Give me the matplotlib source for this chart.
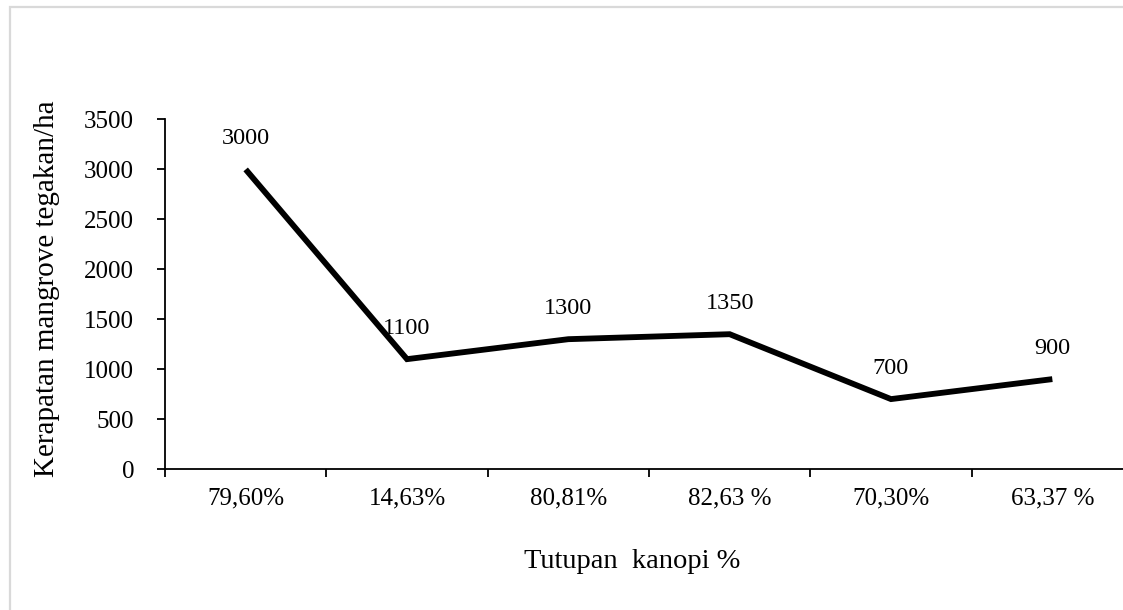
import matplotlib
matplotlib.use("Agg")
import matplotlib.pyplot as plt
from matplotlib.patches import Rectangle

categories = ["79,60%", "14,63%", "80,81%", "82,63 %", "70,30%", "63,37 %"]
values = [3000, 1100, 1300, 1350, 700, 900]
yticks = [0, 500, 1000, 1500, 2000, 2500, 3000, 3500]

plt.rcParams['font.family'] = ['Liberation Serif', 'DejaVu Serif']
FS = 18

fig = plt.figure(figsize=(11.23, 6.10), dpi=100)
W, H = 1123, 610
ax = fig.add_axes([165 / W, 1 - 469 / H, (1133 - 165) / W, (469 - 119.5) / H])

x = list(range(len(categories)))
ax.plot(x, values, color='black', linewidth=4.2, solid_joinstyle='miter',
        solid_capstyle='butt')

for xi, v in zip(x, values):
    ax.annotate(str(v), (xi, v), xytext=(0, 31 * 0.72), textcoords='offset points',
                ha='center', va='center', fontsize=17.5)

ax.set_xlim(-0.5, len(categories) - 0.5)
ax.set_ylim(0, 3500)
ax.set_yticks(yticks)
ax.set_yticklabels([str(t) for t in yticks], fontsize=FS)
ax.set_xticks([i - 0.5 for i in range(len(categories) + 1)])
ax.set_xticklabels([])
ax.set_xticks(x, minor=True)
ax.set_xticklabels(categories, minor=True, fontsize=FS)
ax.tick_params(axis='x', which='minor', length=0, pad=13)
ax.tick_params(axis='x', which='major', length=5.8, width=1.3, direction='out')
ax.tick_params(axis='y', length=5.8, width=1.3, direction='out', pad=16.5)

for s in ['top', 'right']:
    ax.spines[s].set_visible(False)
for s in ['left', 'bottom']:
    ax.spines[s].set_linewidth(1.3)

fig.text(632 / W, 1 - 561 / H, "Tutupan  kanopi %", ha='center', va='center', fontsize=20.5)
fig.text(47 / W, 1 - 289 / H, "Kerapatan mangrove tegakan/ha", ha='center', va='center',
         rotation=90, fontsize=21)

fig.patches.append(Rectangle((10 / W, -0.2), 1.2, 1.2 - 7 / H, transform=fig.transFigure,
                             fill=False, edgecolor='#d9d9d9', linewidth=1.6))

fig.savefig("out.png", dpi=100)
